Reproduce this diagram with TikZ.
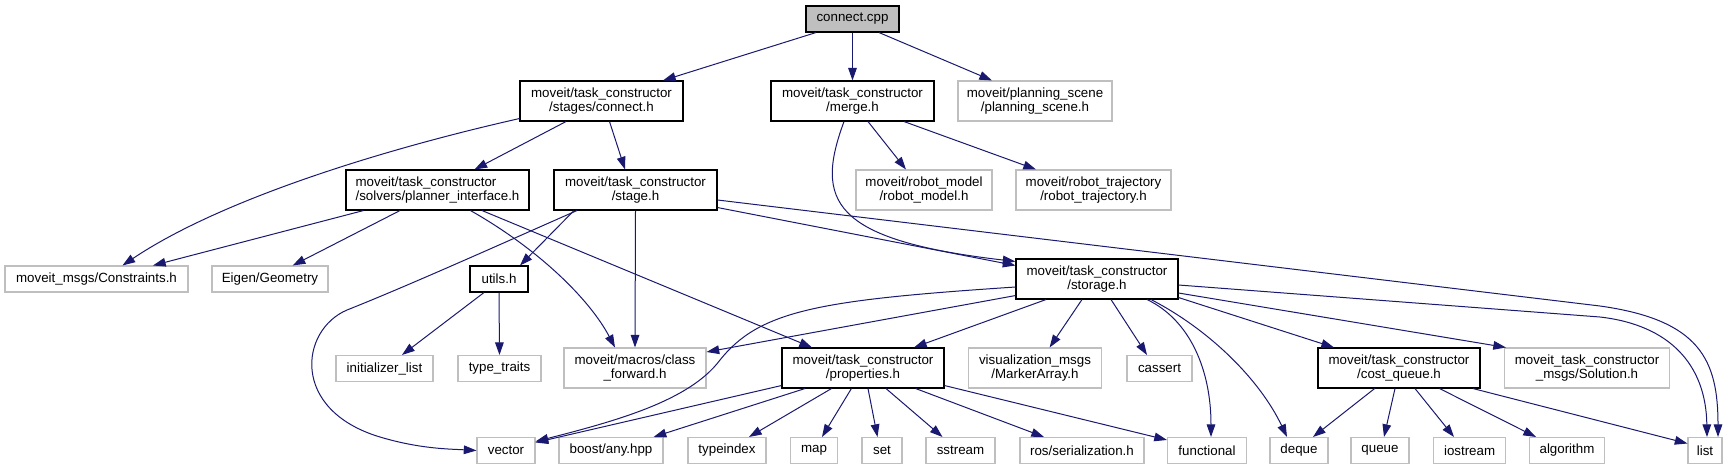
\documentclass[tikz,border=0pt]{standalone}
\usepackage{fontspec}
\setmainfont{Liberation Sans}
\usetikzlibrary{arrows.meta,calc}
\definecolor{edgeblue}{HTML}{191970}
\definecolor{boxgray}{HTML}{BFBFBF}
\begin{document}
\begin{tikzpicture}[x=0.75pt,y=-0.75pt,
  every node/.style={font=\fontsize{10pt}{10.5pt}\selectfont, inner sep=0pt, align=center},
  hdr/.style 2 args={draw=black, line width=0.8pt, fill=white, minimum width=#1*0.75pt, minimum height=#2*0.75pt},
  ext/.style 2 args={draw=boxgray, line width=0.8pt, fill=white, minimum width=#1*0.75pt, minimum height=#2*0.75pt},
  dep/.style={draw=edgeblue, line width=0.75pt, -{Triangle[length=9.5pt,width=6.5pt]}}
]
\useasboundingbox (0,0) rectangle (1732,469);
% nodes
\node[hdr={93}{26}, fill=boxgray] (cpp) at (852.5,19) {connect.cpp};
\node[hdr={163}{40}] (connh) at (601.5,101) {moveit/task\_constructor\\/stages/connect.h};
\node[hdr={163}{40}] (merge) at (852.5,101) {moveit/task\_constructor\\/merge.h};
\node[ext={154}{40}] (pscene) at (1035,101) {moveit/planning\_scene\\/planning\_scene.h};
\node[hdr={183}{40}, align=left] (plan) at (437.5,190) {moveit/task\_constructor\\/solvers/planner\_interface.h};
\node[hdr={163}{40}] (stage) at (635.5,190) {moveit/task\_constructor\\/stage.h};
\node[ext={136}{40}] (rmodel) at (924,190) {moveit/robot\_model\\/robot\_model.h};
\node[ext={155}{40}] (rtraj) at (1093.5,190) {moveit/robot\_trajectory\\/robot\_trajectory.h};
\node[ext={183}{26}] (constr) at (96.5,279) {moveit\_msgs/Constraints.h};
\node[ext={116}{26}] (eigen) at (270,279) {Eigen/Geometry};
\node[hdr={58}{26}] (utils) at (499,279) {utils.h};
\node[hdr={162}{40}] (storage) at (1097,279) {moveit/task\_constructor\\/storage.h};
\node[ext={97}{26}] (initl) at (384.5,368.5) {initializer\_list};
\node[ext={83}{26}] (ttraits) at (499.5,368.5) {type\_traits};
\node[ext={142}{40}] (cfwd) at (635,368) {moveit/macros/class\\\_forward.h};
\node[hdr={162}{40}] (props) at (863,368) {moveit/task\_constructor\\/properties.h};
\node[ext={133}{40}] (marker) at (1035,368) {visualization\_msgs\\/MarkerArray.h};
\node[ext={65}{26}] (cassert) at (1159.5,368.5) {cassert};
\node[hdr={162}{40}] (costq) at (1399,368) {moveit/task\_constructor\\/cost\_queue.h};
\node[ext={165}{40}] (sol) at (1587,368) {moveit\_task\_constructor\\\_msgs/Solution.h};
\node[ext={58}{26}] (vector) at (506,450.5) {vector};
\node[ext={104}{26}] (boost) at (611,450.5) {boost/any.hpp};
\node[ext={78}{26}] (typeindex) at (727,450.5) {typeindex};
\node[ext={47}{26}] (map) at (814,450.5) {map};
\node[ext={40}{26}] (set) at (882,450.5) {set};
\node[ext={69}{26}] (sstream) at (960.5,450.5) {sstream};
\node[ext={124}{26}] (rosser) at (1082,450.5) {ros/serialization.h};
\node[ext={79}{26}] (functional) at (1207,450.5) {functional};
\node[ext={58}{26}] (deque) at (1299,450.5) {deque};
\node[ext={58}{26}] (queue) at (1380,450.5) {queue};
\node[ext={72}{26}] (iostream) at (1469.6,450.5) {iostream};
\node[ext={75}{26}] (algorithm) at (1567,450.5) {algorithm};
\node[ext={34}{26}] (list) at (1705,450.5) {list};
% edges from connect.cpp
\draw[dep] ($(cpp.south)+(-36.5,0)$) -- ($(connh.north)+(61.5,0)$);
\draw[dep] (cpp.south) -- (merge.north);
\draw[dep] ($(cpp.south)+(26.5,0)$) -- ($(pscene.north)+(-43,0)$);
% connect.h
\draw[dep] ($(connh.south west)+(0,-3)$) .. controls (380,150) and (220,200) .. ($(constr.north)+(26,0)$);
\draw[dep] ($(connh.south)+(-35.5,0)$) -- ($(plan.north)+(37,0)$);
\draw[dep] ($(connh.south)+(8,0)$) -- ($(stage.north)+(-10.5,0)$);
% merge.h
\draw[dep] ($(merge.south)+(-8.5,0)$) .. controls (815,200) and (830,240) .. ($(storage.north west)+(0,3)$);
\draw[dep] ($(merge.south)+(15.5,0)$) -- ($(rmodel.north)+(-18,0)$);
\draw[dep] ($(merge.south)+(51.5,0)$) -- ($(rtraj.north)+(-57.5,0)$);
% planner_interface.h
\draw[dep] ($(plan.south)+(-74,0)$) -- ($(constr.north)+(56.5,0)$);
\draw[dep] ($(plan.south)+(-37.5,0)$) -- ($(eigen.north)+(22.7,0)$);
\draw[dep] ($(plan.south)+(33,0)$) .. controls (540,250) and (590,300) .. ($(cfwd.north)+(-20,0)$);
\draw[dep] ($(plan.south)+(44.5,0)$) -- ($(props.north)+(-51,0)$);
% stage.h
\draw[dep] ($(stage.south)+(-58.5,0)$) .. controls (510,240) and (410,285) .. (347,310)
  .. controls (300,330) and (290,410) .. (380,437) .. controls (420,449) and (450,449) .. (vector.west);
\draw[dep] ($(stage.south)+(-61.5,0)$) -- ($(utils.north)+(21,0)$);
\draw[dep] (stage.south) -- (cfwd.north);
\draw[dep] ($(stage.south east)+(0,-3)$) -- ($(storage.north west)+(0,7)$);
\draw[dep] ($(stage.east)+(0,10)$) -- (1600,306) .. controls (1700,320) and (1718,360) .. ($(list.north)+(13,0)$);
% utils.h
\draw[dep] ($(utils.south)+(-15,0)$) -- ($(initl.north)+(17.5,0)$);
\draw[dep] (utils.south) -- (ttraits.north);
% storage.h
\draw[dep] ($(storage.west)+(0,8)$) .. controls (820,300) and (760,310) .. (720,360)
  .. controls (690,400) and (620,420) .. ($(vector.east)+(0,-9)$);
\draw[dep] ($(storage.south west)+(0,-4)$) -- ($(cfwd.east)+(0,-16)$);
\draw[dep] ($(storage.south)+(-51,0)$) -- ($(props.north)+(51,0)$);
\draw[dep] ($(storage.south)+(-15,0)$) -- ($(marker.north)+(14.6,0)$);
\draw[dep] ($(storage.south)+(14,0)$) -- ($(cassert.north)+(-12.5,0)$);
\draw[dep] ($(storage.south)+(50,0)$) .. controls (1190,320) and (1211,370) .. ($(functional.north)+(4,0)$);
\draw[dep] ($(storage.south)+(54,0)$) .. controls (1210,330) and (1260,380) .. ($(deque.north)+(-12,0)$);
\draw[dep] ($(storage.south east)+(0,-2)$) -- ($(costq.north)+(-65,0)$);
\draw[dep] ($(storage.east)+(0,14)$) -- ($(sol.north west)+(2,0)$);
\draw[dep] ($(storage.east)+(0,6)$) -- (1600,317) .. controls (1670,325) and (1706,365) .. ($(list.north)+(2,0)$);
% properties.h
\draw[dep] ($(props.south west)+(0,-3)$) -- ($(vector.east)+(0,-8)$);
\draw[dep] ($(props.south)+(-58,0)$) -- ($(boost.north)+(42.6,0)$);
\draw[dep] ($(props.south)+(-31.5,0)$) -- ($(typeindex.north)+(22,0)$);
\draw[dep] ($(props.south)+(-11.6,0)$) -- ($(map.north)+(8,0)$);
\draw[dep] ($(props.south)+(5,0)$) -- ($(set.north)+(-4.5,0)$);
\draw[dep] ($(props.south)+(23,0)$) -- ($(sstream.north)+(-18,0)$);
\draw[dep] ($(props.south)+(52.7,0)$) -- ($(rosser.north)+(-38,0)$);
\draw[dep] ($(props.south east)+(0,-3)$) -- ($(functional.north west)+(0,3)$);
% cost_queue.h
\draw[dep] ($(costq.south)+(-24.4,0)$) -- ($(deque.north)+(14,0)$);
\draw[dep] ($(costq.south)+(-4,0)$) -- ($(queue.north)+(4,0)$);
\draw[dep] ($(costq.south)+(16,0)$) -- ($(iostream.north)+(-15.6,0)$);
\draw[dep] ($(costq.south)+(40.5,0)$) -- ($(algorithm.north)+(-31,0)$);
\draw[dep] ($(costq.south)+(74,0)$) -- ($(list.west)+(0,-7)$);
\end{tikzpicture}
\end{document}
